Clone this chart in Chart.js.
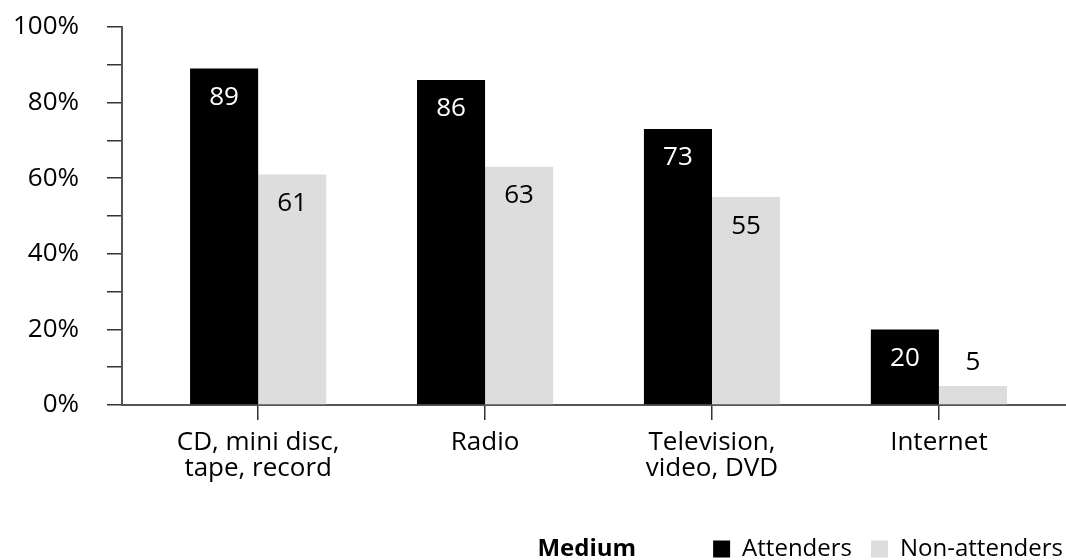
<!DOCTYPE html>
<html>
<head>
<meta charset="utf-8">
<script src="https://cdn.jsdelivr.net/npm/chart.js@4/dist/chart.umd.min.js"></script>
<style>
    html, body { margin: 0; padding: 0; background: #fff; }
    #wrap { width: 1066px; height: 560px; position: relative; }
</style>
</head>
<body>
<div id="wrap"><canvas id="mediumChart"></canvas></div>
<script>
// --- DATA ---
const categories = [['CD, mini disc,', 'tape, record'], 'Radio', ['Television,', 'video, DVD'], 'Internet'];
const attenders = [89, 86, 73, 20];
const nonAttenders = [61, 63, 55, 5];
const yTicks = [0, 20, 40, 60, 80, 100];
const legendHeading = 'Medium';

const FONT = "'Open Sans', sans-serif";
Chart.defaults.font.family = FONT;
Chart.defaults.font.size = 26;
Chart.defaults.color = '#000';

// bars sit on a numeric x scale so the category slots can start right after the y axis
const toPoints = arr => arr.map((v, i) => ({ x: i, y: v }));

// value printed near the top of each bar (above it when the bar is too short)
const barValues = {
    id: 'barValues',
    afterDatasetsDraw(chart) {
        const ctx = chart.ctx;
        ctx.save();
        ctx.font = `26px ${FONT}`;
        ctx.textAlign = 'center';
        ctx.textBaseline = 'middle';
        chart.data.datasets.forEach((ds, di) => {
            const meta = chart.getDatasetMeta(di);
            meta.data.forEach((bar, i) => {
                const h = bar.base - bar.y;
                let y, color;
                if (h > 45) {
                    y = bar.y + 29;
                    color = di === 0 ? '#fff' : '#000';
                } else {
                    y = bar.y - 24;
                    color = '#000';
                }
                ctx.fillStyle = color;
                ctx.fillText(String(ds.data[i].y), bar.x, y);
            });
        });
        ctx.restore();
    }
};

// push the legend flush with the right edge and put a bold heading before it
const legendHeadingPlugin = {
    id: 'legendHeading',
    afterLayout(chart) {
        const lg = chart.legend;
        if (!lg) return;
        lg.left += 16;
        lg.right += 16;
    },
    afterDraw(chart) {
        const boxes = chart.legend && chart.legend.legendHitBoxes;
        if (!boxes || !boxes.length) return;
        const first = boxes[0];
        const ctx = chart.ctx;
        ctx.save();
        ctx.font = `bold 24px ${FONT}`;
        ctx.fillStyle = '#000';
        ctx.textAlign = 'right';
        ctx.textBaseline = 'middle';
        ctx.fillText(legendHeading, first.left - 77, first.top + first.height / 2);
        ctx.restore();
    }
};

const ctx = document.getElementById('mediumChart').getContext('2d');
new Chart(ctx, {
    type: 'bar',
    data: {
        datasets: [
            { label: 'Attenders', data: toPoints(attenders), backgroundColor: '#000', borderWidth: 0 },
            { label: 'Non-attenders', data: toPoints(nonAttenders), backgroundColor: '#dddddd', borderWidth: 0 }
        ]
    },
    options: {
        responsive: true,
        maintainAspectRatio: false,
        animation: false,
        categoryPercentage: 0.6,
        barPercentage: 1.0,
        layout: { padding: { top: 27, left: 0, right: 0, bottom: 0 } },
        scales: {
            x: {
                type: 'linear',
                min: -0.6,
                max: 3.56,
                offset: false,
                afterBuildTicks: scale => {
                    scale.ticks = categories.map((c, i) => ({ value: i }));
                },
                afterFit: scale => { scale.height = 113; },
                ticks: {
                    autoSkip: false,
                    maxRotation: 0,
                    padding: 10,
                    font: { size: 26, lineHeight: 1.0 },
                    callback: v => categories[v]
                },
                grid: { drawOnChartArea: false, drawTicks: true, tickLength: 15, color: '#333', lineWidth: 1.5, offset: false },
                border: { display: true, color: '#555', width: 2 }
            },
            y: {
                min: 0,
                max: 100,
                // fixed axis width; tick label padding shouldn't push the plot down
                afterFit: scale => {
                    scale.width = 122;
                    scale.paddingTop = 0;
                    scale.paddingBottom = 0;
                },
                ticks: {
                    stepSize: 10,
                    padding: 28,
                    font: { size: 26 },
                    callback: v => yTicks.includes(v) ? v + '%' : ''
                },
                grid: { drawOnChartArea: false, drawTicks: true, tickLength: 15, color: '#333', lineWidth: 1.5 },
                border: { display: true, color: '#555', width: 2 }
            }
        },
        plugins: {
            tooltip: { enabled: false },
            legend: {
                position: 'bottom',
                align: 'end',
                maxHeight: 42,
                labels: {
                    boxWidth: 17,
                    boxHeight: 17,
                    padding: 19,
                    font: { size: 24 },
                    color: '#000'
                }
            }
        }
    },
    plugins: [barValues, legendHeadingPlugin]
});
</script>
</body>
</html>
